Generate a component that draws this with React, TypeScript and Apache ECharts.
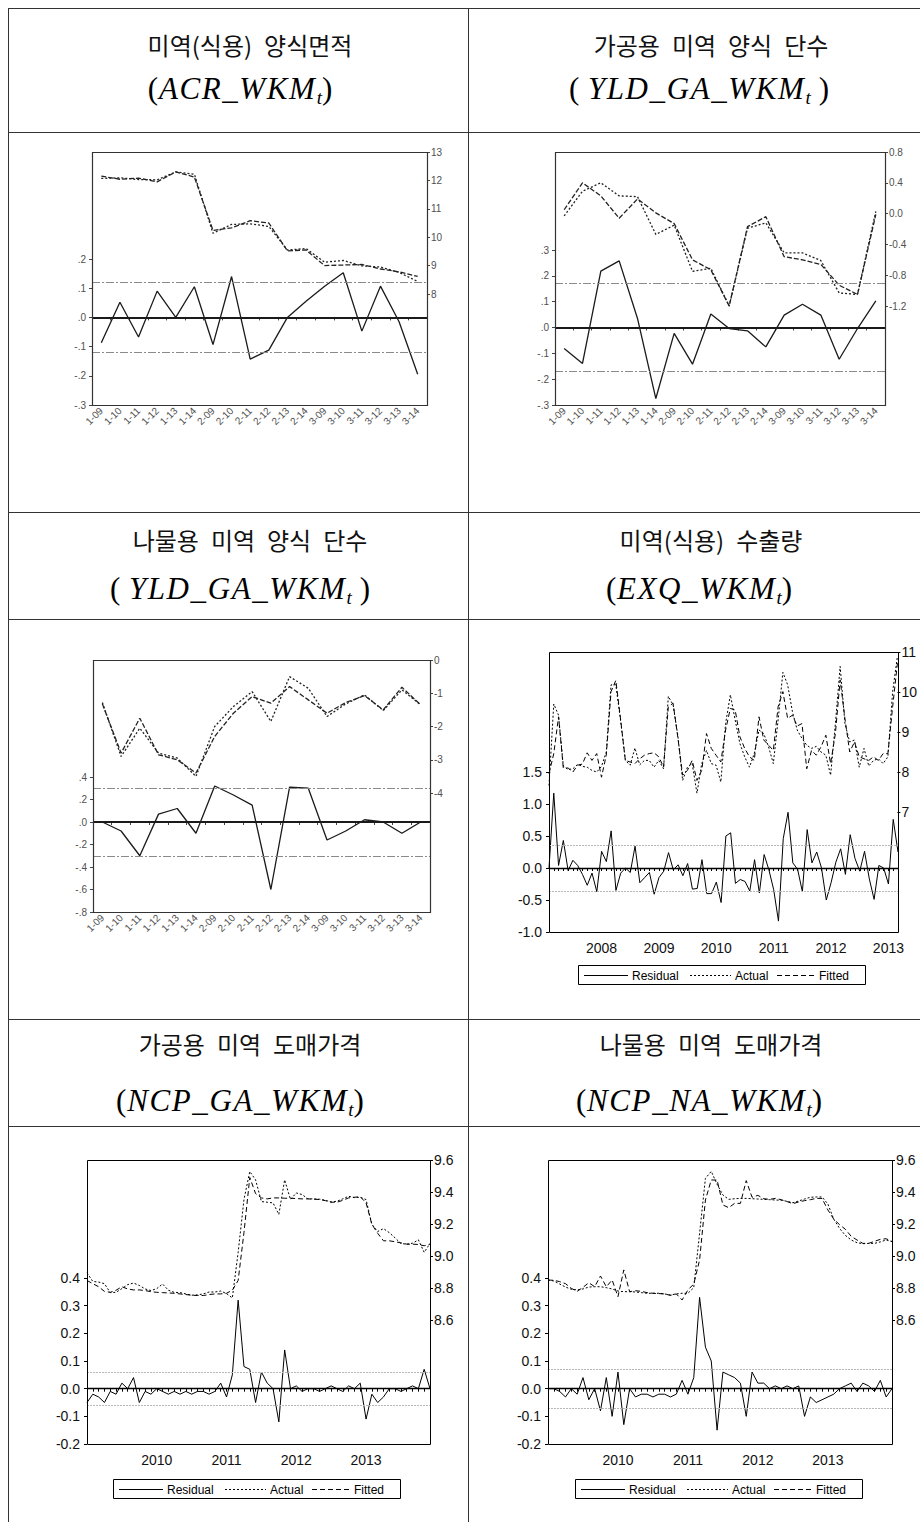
import React, { useEffect, useRef } from "react";
import * as echarts from "echarts";

// ---------- categories ----------
const quarterCats = ["1-09", "1-10", "1-11", "1-12", "1-13", "1-14", "2-09", "2-10", "2-11", "2-12", "2-13", "2-14", "3-09", "3-10", "3-11", "3-12", "3-13", "3-14"];

function monthCats(y0: number, m0: number, n: number): string[] {
  const out: string[] = [];
  for (let i = 0; i < n; i++) {
    const t = m0 - 1 + i;
    const y = y0 + Math.floor(t / 12);
    const m = (t % 12) + 1;
    out.push(`${y}-${m < 10 ? "0" + m : m}`);
  }
  return out;
}
const exqMonths = monthCats(2007, 2, 74);
const ncpMonths = monthCats(2009, 1, 60);
const exqYearLabels = ["2008", "2009", "2010", "2011", "2012", "2013"];
const ncpYearLabels = ["2010", "2011", "2012", "2013"];

// ---------- chart 1 : ACR_WKM ----------
const acrResidual = [-0.087, 0.052, -0.067, 0.09, 0.0, 0.105, -0.093, 0.14, -0.143, -0.112, 0.0, 0.055, 0.107, 0.153, -0.047, 0.107, -0.015, -0.195];
const acrActual = [12.07, 12.09, 12.03, 12.02, 12.3, 12.22, 10.14, 10.45, 10.47, 10.38, 9.55, 9.6, 9.12, 9.18, 8.99, 8.95, 8.76, 8.44];
const acrFitted = [12.15, 12.04, 12.08, 11.95, 12.3, 12.12, 10.24, 10.33, 10.58, 10.5, 9.52, 9.55, 9.0, 9.02, 9.04, 8.88, 8.78, 8.62];

// ---------- chart 2 : YLD_GA_WKM (가공용) ----------
const yldGaResidual = [-0.081, -0.139, 0.218, 0.258, 0.035, -0.275, -0.023, -0.142, 0.052, -0.004, -0.013, -0.075, 0.048, 0.09, 0.048, -0.123, -0.004, 0.103];
const yldGaActual = [-0.03, 0.29, 0.4, 0.23, 0.22, -0.27, -0.15, -0.75, -0.71, -1.2, -0.19, -0.12, -0.51, -0.51, -0.61, -1.03, -1.05, 0.03];
const yldGaFitted = [0.05, 0.4, 0.23, -0.06, 0.19, 0.01, -0.13, -0.6, -0.73, -1.2, -0.17, -0.04, -0.56, -0.6, -0.66, -0.93, -1.05, -0.01];

// ---------- chart 3 : YLD_GA_WKM (나물용) ----------
const yldNaResidual = [0.0, -0.08, -0.3, 0.07, 0.12, -0.1, 0.32, 0.24, 0.15, -0.6, 0.31, 0.3, -0.16, -0.08, 0.02, 0.0, -0.1, 0.0];
const yldNaActual = [-1.28, -2.9, -2.05, -2.8, -2.95, -3.5, -2.0, -1.4, -0.95, -1.85, -0.5, -0.85, -1.7, -1.32, -1.05, -1.52, -0.9, -1.35];
const yldNaFitted = [-1.32, -2.8, -1.75, -2.85, -3.0, -3.4, -2.3, -1.6, -1.1, -1.3, -0.8, -1.2, -1.6, -1.28, -1.07, -1.5, -0.82, -1.35];

// ---------- chart 4 : EXQ_WKM ----------
const exqResidual = [
  0.0, 1.17, 0.04, 0.43, -0.04, 0.12, 0.04, -0.1, -0.27, -0.08,
  -0.37, 0.26, 0.1, 0.58, -0.35, -0.08, 0.0, -0.07, 0.34, -0.23,
  -0.15, -0.07, -0.41, -0.15, -0.05, 0.24, -0.03, 0.05, -0.12, 0.07,
  -0.33, -0.32, 0.13, -0.4, -0.4, -0.22, -0.54, 0.5, 0.55, -0.24,
  -0.18, -0.21, -0.36, 0.13, -0.39, 0.21, -0.03, -0.34, -0.83, 0.46,
  0.87, 0.08, -0.02, -0.37, 0.6, 0.08, 0.25, 0.0, -0.5, -0.23,
  0.09, 0.3, -0.1, 0.52, 0.15, -0.05, 0.26, -0.17, -0.49, 0.04,
  0.0, -0.25, 0.76, 0.25,
];
const exqActual = [
  7.66, 9.7, 9.42, 8.15, 8.06, 8.08, 8.19, 8.14, 8.12, 8.04,
  8.0, 8.14, 8.5, 10.18, 10.18, 9.28, 8.29, 8.17, 8.6, 8.18,
  8.29, 8.29, 8.12, 8.29, 8.08, 9.89, 9.68, 8.9, 7.79, 8.12,
  8.21, 7.47, 8.21, 8.54, 8.21, 8.17, 7.75, 9.21, 9.93, 9.3,
  8.71, 8.38, 8.12, 8.46, 9.05, 8.96, 8.63, 8.21, 9.3, 10.49,
  10.18, 9.51, 9.05, 8.84, 8.67, 8.59, 8.64, 8.5, 8.42, 7.92,
  9.21, 10.64, 9.21, 8.75, 8.8, 8.12, 8.59, 8.15, 8.29, 8.33,
  8.21, 8.38, 10.01, 10.89,
];
const exqFitted = [
  7.96, 8.46, 9.38, 8.1, 8.1, 8.0, 8.17, 8.2, 8.48, 8.29,
  8.46, 7.87, 8.42, 10.01, 10.29, 9.32, 8.29, 8.25, 8.21, 8.33,
  8.42, 8.46, 8.48, 8.38, 8.12, 9.63, 9.72, 8.86, 7.92, 8.04,
  8.29, 7.79, 8.04, 8.96, 8.59, 8.42, 8.25, 9.05, 9.59, 9.55,
  8.88, 8.59, 8.38, 8.29, 9.38, 8.8, 8.67, 8.54, 9.63, 10.01,
  9.34, 9.42, 9.15, 9.21, 8.08, 8.54, 8.42, 8.63, 8.92, 8.21,
  8.96, 10.3, 9.34, 8.5, 8.75, 8.38, 8.33, 8.29, 8.38, 8.29,
  8.46, 8.46, 9.63, 10.72,
];

// ---------- chart 5 : NCP_GA_WKM (2009M01-2013M12) ----------
const ncpGaResidual = [
  -0.05, -0.02, -0.03, -0.05, -0.01, -0.02, 0.02, 0.0, 0.04, -0.05,
  -0.01, -0.02, 0.0, -0.01, -0.02, -0.01, -0.02, -0.01, -0.02, -0.01,
  -0.01, -0.02, -0.01, 0.02, -0.03, 0.05, 0.32, 0.08, 0.07, -0.05,
  0.06, 0.02, 0.0, -0.12, 0.14, 0.0, 0.01, -0.01, 0.0, 0.0,
  -0.01, 0.0, 0.01, 0.0, -0.01, 0.01, 0.0, 0.02, -0.11, -0.02,
  -0.05, -0.03, 0.0, 0.0, -0.01, 0.0, 0.01, 0.0, 0.07, 0.0,
];
const ncpGaActual = [
  8.895, 8.841, 8.837, 8.827, 8.771, 8.773, 8.796, 8.821, 8.831, 8.816,
  8.794, 8.784, 8.796, 8.825, 8.786, 8.773, 8.771, 8.763, 8.755, 8.757,
  8.763, 8.775, 8.775, 8.781, 8.765, 8.738, 9.023, 9.353, 9.528, 9.476,
  9.34, 9.336, 9.332, 9.26, 9.476, 9.353, 9.394, 9.384, 9.357, 9.357,
  9.355, 9.348, 9.338, 9.342, 9.357, 9.373, 9.365, 9.367, 9.353, 9.198,
  9.153, 9.171, 9.146, 9.113, 9.078, 9.074, 9.08, 9.101, 9.023, 9.078,
];
const ncpGaFitted = [
  8.847, 8.827, 8.808, 8.779, 8.773, 8.786, 8.808, 8.794, 8.788, 8.788,
  8.784, 8.777, 8.773, 8.771, 8.769, 8.767, 8.763, 8.759, 8.755, 8.753,
  8.753, 8.759, 8.763, 8.763, 8.767, 8.786, 8.847, 9.146, 9.491, 9.39,
  9.363, 9.357, 9.363, 9.363, 9.361, 9.361, 9.359, 9.357, 9.357, 9.355,
  9.353, 9.346, 9.336, 9.336, 9.348, 9.363, 9.367, 9.371, 9.332, 9.198,
  9.142, 9.095, 9.095, 9.089, 9.082, 9.074, 9.074, 9.072, 9.064, 9.074,
];

// ---------- chart 6 : NCP_NA_WKM (2009M01-2013M12) ----------
const ncpNaResidual = [
  0.0, 0.0, -0.01, -0.03, 0.0, -0.02, 0.04, -0.04, 0.0, -0.08,
  0.04, -0.1, 0.06, -0.13, 0.0, -0.03, -0.02, -0.02, -0.03, -0.02,
  -0.02, -0.03, -0.02, 0.03, -0.02, 0.04, 0.33, 0.15, 0.1, -0.15,
  0.06, 0.05, 0.04, 0.02, -0.1, 0.06, 0.02, 0.02, 0.0, 0.01,
  0.0, 0.01, 0.0, 0.01, -0.1, -0.03, -0.05, -0.04, -0.03, -0.02,
  0.0, 0.01, 0.02, -0.01, 0.02, 0.01, -0.01, 0.03, -0.03, 0.0,
];
const ncpNaActual = [
  8.85, 8.844, 8.825, 8.806, 8.792, 8.788, 8.794, 8.806, 8.808, 8.808,
  8.802, 8.794, 8.781, 8.777, 8.777, 8.775, 8.771, 8.767, 8.767, 8.767,
  8.763, 8.756, 8.763, 8.767, 8.767, 8.802, 9.142, 9.485, 9.529, 9.448,
  9.381, 9.354, 9.358, 9.36, 9.36, 9.358, 9.356, 9.354, 9.352, 9.35,
  9.348, 9.342, 9.333, 9.344, 9.356, 9.367, 9.369, 9.369, 9.325, 9.231,
  9.173, 9.129, 9.1, 9.083, 9.077, 9.079, 9.079, 9.088, 9.1, 9.09,
];
const ncpNaFitted = [
  8.85, 8.848, 8.84, 8.827, 8.798, 8.779, 8.804, 8.833, 8.808, 8.875,
  8.808, 8.85, 8.746, 8.913, 8.777, 8.783, 8.779, 8.771, 8.767, 8.765,
  8.763, 8.754, 8.763, 8.725, 8.788, 8.825, 8.975, 9.35, 9.475, 9.475,
  9.319, 9.302, 9.329, 9.329, 9.471, 9.367, 9.379, 9.358, 9.354, 9.36,
  9.352, 9.34, 9.327, 9.338, 9.346, 9.352, 9.36, 9.36, 9.288, 9.231,
  9.196, 9.167, 9.123, 9.1, 9.079, 9.079, 9.092, 9.104, 9.108, 9.09,
];

// ---------- header texts ----------
const titles = ["미역(식용) 양식면적", "가공용 미역 양식 단수", "나물용 미역 양식 단수", "미역(식용) 수출량", "가공용 미역 도매가격", "나물용 미역 도매가격"];
const formulaNames = ["ACR_WKM", "YLD_GA_WKM", "YLD_GA_WKM", "EXQ_WKM", "NCP_GA_WKM", "NCP_NA_WKM"];
const formulaSpaced = [false, true, true, false, false, false];
const legendNames = ["Residual", "Actual", "Fitted"];

// ---------- layout ----------
const hLines = [8, 132, 512, 619, 1019, 1126];
const titleY = [44, 44, 539, 539, 1043, 1043];
const formulaY = [88, 88, 588, 588, 1100, 1100];
const titleX = [250, 711];
const formulaX = [240, 699];

const dotFmt = (v: number) => {
  const s = (Math.round(v * 100) / 100).toFixed(1);
  return s.replace(/^(-?)0\./, "$1.");
};
const fix1 = (v: number) => (Math.round(v * 100) / 100).toFixed(1);
const intFmt = (v: number) => String(Math.round(v));

type Spec = {
  frame: { x: number; y: number; w: number; h: number };
  cats: string[];
  time: boolean;
  years?: string[];
  residual: number[];
  actual: number[];
  fitted: number[];
  left: { min: number; max: number; interval: number; top: number; fmt: (v: number) => string };
  right: { min: number; max: number; interval: number; bottom: number; fmt: (v: number) => string };
  se: number;
  legend?: { cx: number; cy: number };
};

const specs: Spec[] = [
  {
    frame: { x: 92, y: 152, w: 335, h: 253 }, cats: quarterCats, time: false,
    residual: acrResidual, actual: acrActual, fitted: acrFitted,
    left: { min: -0.3, max: 0.2, interval: 0.1, top: 259, fmt: dotFmt },
    right: { min: 8, max: 13, interval: 1, bottom: 294, fmt: intFmt }, se: 0.123,
  },
  {
    frame: { x: 555, y: 152, w: 330, h: 253 }, cats: quarterCats, time: false,
    residual: yldGaResidual, actual: yldGaActual, fitted: yldGaFitted,
    left: { min: -0.3, max: 0.3, interval: 0.1, top: 250, fmt: dotFmt },
    right: { min: -1.2, max: 0.8, interval: 0.4, bottom: 306, fmt: fix1 }, se: 0.168,
  },
  {
    frame: { x: 93, y: 660, w: 337, h: 252 }, cats: quarterCats, time: false,
    residual: yldNaResidual, actual: yldNaActual, fitted: yldNaFitted,
    left: { min: -0.8, max: 0.4, interval: 0.2, top: 777, fmt: dotFmt },
    right: { min: -4, max: 0, interval: 1, bottom: 793, fmt: intFmt }, se: 0.3,
  },
  {
    frame: { x: 549, y: 652, w: 349, h: 280 }, cats: exqMonths, time: true, years: exqYearLabels,
    residual: exqResidual, actual: exqActual, fitted: exqFitted,
    left: { min: -1, max: 1.5, interval: 0.5, top: 772, fmt: fix1 },
    right: { min: 7, max: 11, interval: 1, bottom: 812, fmt: intFmt }, se: 0.36,
    legend: { cx: 722, cy: 975 },
  },
  {
    frame: { x: 87, y: 1160, w: 343, h: 284 }, cats: ncpMonths, time: true, years: ncpYearLabels,
    residual: ncpGaResidual, actual: ncpGaActual, fitted: ncpGaFitted,
    left: { min: -0.2, max: 0.4, interval: 0.1, top: 1278, fmt: fix1 },
    right: { min: 8.6, max: 9.6, interval: 0.2, bottom: 1320, fmt: fix1 }, se: 0.06,
    legend: { cx: 257, cy: 1489 },
  },
  {
    frame: { x: 548, y: 1160, w: 344, h: 284 }, cats: ncpMonths, time: true, years: ncpYearLabels,
    residual: ncpNaResidual, actual: ncpNaActual, fitted: ncpNaFitted,
    left: { min: -0.2, max: 0.4, interval: 0.1, top: 1278, fmt: fix1 },
    right: { min: 8.6, max: 9.6, interval: 0.2, bottom: 1320, fmt: fix1 }, se: 0.065,
    legend: { cx: 719, cy: 1489 },
  },
];

const SANS = "'Liberation Sans', Arial, sans-serif";
const SERIF = "'Liberation Serif', 'Times New Roman', serif";
const KR = "'Noto Sans CJK KR', sans-serif";

function formulaText(name: string, spaced: boolean) {
  const sp = spaced ? " " : "";
  const letters = name.split("").map((c) => `{m|${c}}`).join("");
  return `{p|(${sp}}${letters}{s|t}{p|${sp})}`;
}

function buildOption() {
  const grid: any[] = [];
  const xAxis: any[] = [];
  const yAxis: any[] = [];
  const series: any[] = [];
  const elements: any[] = [];

  // table lines
  hLines.forEach((y) => {
    elements.push({ type: "line", silent: true, shape: { x1: 8, y1: y + 0.5, x2: 920, y2: y + 0.5 }, style: { stroke: "#333", lineWidth: 1 } });
  });
  [8, 468].forEach((x) => {
    elements.push({ type: "line", silent: true, shape: { x1: x + 0.5, y1: 8, x2: x + 0.5, y2: 1522 }, style: { stroke: "#333", lineWidth: 1 } });
  });

  // header texts
  titles.forEach((t, i) => {
    const col = i % 2;
    elements.push({
      type: "text", silent: true, x: titleX[col], y: titleY[i],
      style: { text: t.replace(/ /g, "\u2002"), fontFamily: KR, fontSize: 24, fill: "#111", align: "center", verticalAlign: "middle" },
    });
    elements.push({
      type: "text", silent: true, x: formulaX[col], y: formulaY[i],
      style: {
        text: formulaText(formulaNames[i], formulaSpaced[i]),
        align: "center", verticalAlign: "middle",
        rich: {
          p: { fontFamily: SERIF, fontSize: 31, lineHeight: 38, fill: "#000" },
          m: { fontFamily: SERIF, fontStyle: "italic", fontSize: 31, lineHeight: 38, fill: "#000", padding: [0, 0.8, 0, 0.8] },
          s: { fontFamily: SERIF, fontStyle: "italic", fontSize: 19, lineHeight: 18, verticalAlign: "bottom", fill: "#000", padding: [0, 0, 0, 1] },
        },
      },
    });
  });

  specs.forEach((s) => {
    const f = s.frame;
    const scan = !s.time;
    const labelColor = scan ? "#505050" : "#111";
    const tickColor = scan ? "#444" : "#000";
    const fs = scan ? 10 : 14;

    const gR = grid.length;
    grid.push({ left: f.x, top: s.left.top, width: f.w, height: f.y + f.h - s.left.top, containLabel: false });
    const gA = grid.length;
    grid.push({ left: f.x, top: f.y, width: f.w, height: s.right.bottom - f.y, containLabel: false });

    const xR = xAxis.length;
    xAxis.push({
      type: "category", gridIndex: gR, data: s.cats, boundaryGap: scan,
      axisLine: { show: false },
      axisTick: { show: true, interval: 0, length: 3, lineStyle: { color: tickColor, width: 1 } },
      splitLine: { show: false },
      axisLabel: scan
        ? { interval: 0, rotate: 45, fontSize: 10, color: labelColor, fontFamily: SANS, margin: 4 }
        : {
            interval: (_i: number, v: string) => v.endsWith("-01") && (s.years || []).includes(v.slice(0, 4)),
            formatter: (v: string) => v.slice(0, 4),
            fontSize: 14, color: labelColor, fontFamily: SANS, margin: 9,
          },
    });
    const xA = xAxis.length;
    xAxis.push({ type: "category", gridIndex: gA, data: s.cats, boundaryGap: scan, show: false });

    const yR = yAxis.length;
    yAxis.push({
      type: "value", gridIndex: gR, position: "left",
      min: s.left.min, max: s.left.max, interval: s.left.interval,
      axisLine: { show: false },
      axisTick: { show: true, length: 3, lineStyle: { color: tickColor, width: 1 } },
      splitLine: { show: false },
      axisLabel: { formatter: s.left.fmt, fontSize: fs, color: labelColor, fontFamily: SANS, margin: scan ? 6 : 7 },
    });
    const yA = yAxis.length;
    yAxis.push({
      type: "value", gridIndex: gA, position: "right",
      min: s.right.min, max: s.right.max, interval: s.right.interval,
      axisLine: { show: false },
      axisTick: { show: true, length: 3, lineStyle: { color: tickColor, width: 1 } },
      splitLine: { show: false },
      axisLabel: { formatter: s.right.fmt, fontSize: fs, color: labelColor, fontFamily: SANS, margin: 4 },
    });

    const resColor = scan ? "#1a1a1a" : "#000";
    const seStyle = scan
      ? { color: "#8a8a8a", width: 1.2, type: [8, 2, 2, 2] }
      : { color: "#b8b8b8", width: 1, type: [2, 1] };

    series.push({
      type: "line", name: legendNames[0], xAxisIndex: xR, yAxisIndex: yR, data: s.residual,
      symbol: "none", clip: false, z: 4,
      lineStyle: { color: resColor, width: scan ? 1.3 : 1 },
      markLine: {
        silent: true, symbol: "none", label: { show: false }, animation: false,
        data: [
          { yAxis: 0, lineStyle: { color: resColor, width: scan ? 1.8 : 1.3, type: "solid" } },
          { yAxis: s.se, lineStyle: seStyle },
          { yAxis: -s.se, lineStyle: seStyle },
        ],
      },
    });
    series.push({
      type: "line", name: legendNames[1], xAxisIndex: xA, yAxisIndex: yA, data: s.actual,
      symbol: "none", clip: false, z: 3,
      lineStyle: { color: scan ? "#222" : "#000", width: scan ? 1.3 : 1, type: [2, 2] },
    });
    series.push({
      type: "line", name: legendNames[2], xAxisIndex: xA, yAxisIndex: yA, data: s.fitted,
      symbol: "none", clip: false, z: 3,
      lineStyle: { color: scan ? "#222" : "#000", width: scan ? 1.3 : 1, type: scan ? [5, 2] : [5, 3] },
    });

    // frame
    elements.push({
      type: "rect", silent: true, z: 10,
      shape: { x: f.x + 0.5, y: f.y + 0.5, width: f.w, height: f.h },
      style: { fill: "none", stroke: scan ? "#333" : "#000", lineWidth: scan ? 1.2 : 1 },
    });

    if (s.legend) {
      const { cx, cy } = s.legend;
      elements.push({ type: "rect", silent: true, shape: { x: cx - 143.5, y: cy - 9.5, width: 287, height: 19 }, style: { fill: "#fff", stroke: "#000", lineWidth: 1 } });
      const items = [
        { x1: -138, x2: -94, tx: -90, dash: null as any },
        { x1: -32, x2: 9, tx: 13, dash: [2, 2] },
        { x1: 55, x2: 93, tx: 97, dash: [5, 3] },
      ];
      items.forEach((it, k) => {
        elements.push({
          type: "line", silent: true, z: 11,
          shape: { x1: cx + it.x1, y1: cy + 0.5, x2: cx + it.x2, y2: cy + 0.5 },
          style: { stroke: "#000", lineWidth: 1, lineDash: it.dash || undefined },
        });
        elements.push({
          type: "text", silent: true, z: 11, x: cx + it.tx, y: cy + 0.5,
          style: { text: legendNames[k], fontFamily: SANS, fontSize: 12, fill: "#000", align: "left", verticalAlign: "middle" },
        });
      });
    }
  });

  return {
    animation: false,
    backgroundColor: "#fff",
    grid,
    xAxis,
    yAxis,
    series,
    graphic: { elements },
  };
}

export default function App() {
  const ref = useRef<HTMLDivElement>(null);
  useEffect(() => {
    if (!ref.current) return;
    const chart = echarts.init(ref.current, null, { renderer: "svg" });
    chart.setOption(buildOption() as any);
    return () => chart.dispose();
  }, []);
  return (
    <div
      ref={ref}
      style={{ position: "absolute", left: 0, top: 0, width: 920, height: 1522, background: "#fff" }}
    />
  );
}
